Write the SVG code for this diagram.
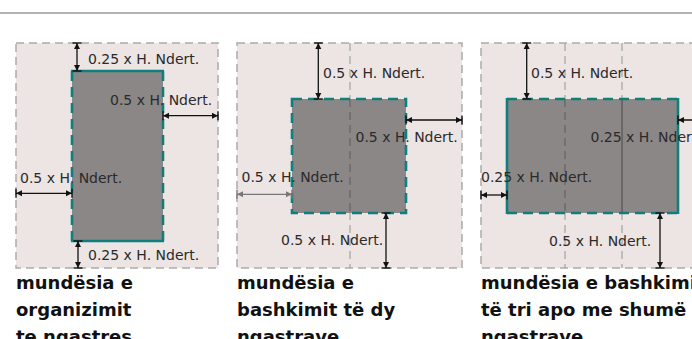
<svg xmlns="http://www.w3.org/2000/svg" width="692" height="339" viewBox="0 0 692 339">
<defs>
<style>
.bg{fill:#ede5e4;stroke:#ababab;stroke-width:1.5;stroke-dasharray:8 5}
.grid{stroke:#a8a8a8;stroke-width:1.3;stroke-dasharray:8 5;fill:none}
.gridin{stroke:#6a6665;stroke-width:1.3;stroke-dasharray:8 5;fill:none}
.bld{fill:#8b8786;stroke:none}
.ts{stroke:#0f7f7e;stroke-width:2.6;fill:none}
.td{stroke:#0f7f7e;stroke-width:2.6;fill:none;stroke-dasharray:10 6}
.dim{stroke:#111;stroke-width:1.3;fill:none;marker-start:url(#ah);marker-end:url(#ah)}
.dimg{stroke:#777;stroke-width:1.3;fill:none;marker-start:url(#ahg);marker-end:url(#ahg)}
.lbl{font-family:"DejaVu Sans","Liberation Sans",sans-serif;font-size:14px;fill:#2a2a2a}
.cap{font-family:"DejaVu Sans","Liberation Sans",sans-serif;font-size:18px;font-weight:bold;fill:#111}
</style>
<marker id="ah" markerUnits="userSpaceOnUse" markerWidth="7" markerHeight="10" viewBox="0 0 7 10" refX="6.4" refY="5" orient="auto-start-reverse">
<path d="M0,1.8 L6.4,5 L0,8.2 Z" fill="#111"/>
<path d="M6.4,0.5 V9.5" stroke="#111" stroke-width="1.4"/>
</marker>
<marker id="ahg" markerUnits="userSpaceOnUse" markerWidth="7" markerHeight="10" viewBox="0 0 7 10" refX="6.4" refY="5" orient="auto-start-reverse">
<path d="M0,1.8 L6.4,5 L0,8.2 Z" fill="#777"/>
<path d="M6.4,0.5 V9.5" stroke="#777" stroke-width="1.4"/>
</marker>
</defs>
<line x1="0" y1="13" x2="692" y2="13" stroke="#9a9a9a" stroke-width="1.5"/>

<g id="panel1">
<rect class="bg" x="16" y="43" width="202" height="225"/>
<g id="building1">
<rect class="bld" x="72" y="71" width="91" height="170"/>
<line class="ts" x1="71" y1="71" x2="164" y2="71"/>
<line class="ts" x1="71" y1="241" x2="164" y2="241"/>
<line class="td" x1="72" y1="71" x2="72" y2="241"/>
<line class="td" x1="163" y1="71" x2="163" y2="241"/>
</g>
<text class="lbl" x="88" y="63.5">0.25 x H. Ndert.</text>
<text class="lbl" x="110" y="104.5">0.5 x H. Ndert.</text>
<text class="lbl" x="20" y="182.5">0.5 x H. Ndert.</text>
<text class="lbl" x="88" y="260">0.25 x H. Ndert.</text>
<text class="cap" x="16" y="289">mundësia e</text>
<text class="cap" x="16" y="316">organizimit</text>
<text class="cap" x="16" y="343">te ngastres</text>
</g>

<g id="panel2">
<rect class="bg" x="237" y="43" width="225" height="225"/>
<line class="grid" x1="350" y1="43" x2="350" y2="268"/>
<g id="building2">
<rect class="bld" x="292" y="99" width="114" height="114"/>
<line class="gridin" x1="350" y1="99" x2="350" y2="213"/>
<rect class="td" x="292" y="99" width="114" height="114"/>
</g>
<text class="lbl" x="323" y="78">0.5 x H. Ndert.</text>
<text class="lbl" x="355.5" y="141.7">0.5 x H. Ndert.</text>
<text class="lbl" x="241.5" y="182.3">0.5 x H. Ndert.</text>
<text class="lbl" x="281" y="245">0.5 x H. Ndert.</text>
<text class="cap" x="237" y="289">mundësia e</text>
<text class="cap" x="237" y="316">bashkimit të dy</text>
<text class="cap" x="237" y="343">ngastrave</text>
</g>

<g id="panel3">
<rect class="bg" x="481" y="43" width="230" height="225"/>
<line class="grid" x1="565" y1="43" x2="565" y2="268"/>
<line class="grid" x1="622" y1="43" x2="622" y2="268"/>
<g id="building3">
<rect class="bld" x="507" y="99" width="171" height="114"/>
<line class="gridin" x1="565" y1="99" x2="565" y2="213"/>
<line x1="622" y1="99" x2="622" y2="213" stroke="#4a4646" stroke-width="1"/>
<line class="td" x1="507" y1="99" x2="678" y2="99"/>
<line class="td" x1="507" y1="213" x2="678" y2="213"/>
<line class="ts" x1="507" y1="98" x2="507" y2="214"/>
<line class="ts" x1="678" y1="98" x2="678" y2="214"/>
</g>
<text class="lbl" x="531" y="78">0.5 x H. Ndert.</text>
<text class="lbl" x="590.5" y="141.7">0.25 x H. Ndert.</text>
<text class="lbl" x="481" y="182">0.25 x H. Ndert.</text>
<text class="lbl" x="549" y="246">0.5 x H. Ndert.</text>
<text class="cap" x="481" y="289">mundësia e bashkimit</text>
<text class="cap" x="481" y="316">të tri apo me shumë</text>
<text class="cap" x="481" y="343">ngastrave</text>
</g>

<g id="connectors">
<line class="dim" x1="77" y1="43" x2="77" y2="71"/>
<line class="dim" x1="163" y1="115.7" x2="218" y2="115.7"/>
<line class="dim" x1="16" y1="193.3" x2="72" y2="193.3"/>
<line class="dim" x1="78" y1="241" x2="78" y2="268"/>
<line class="dim" x1="318.3" y1="43" x2="318.3" y2="99"/>
<line class="dim" x1="406" y1="120" x2="462" y2="120"/>
<line class="dimg" x1="237" y1="194.3" x2="292" y2="194.3"/>
<line class="dim" x1="386" y1="213" x2="386" y2="268"/>
<line class="dim" x1="526.7" y1="43" x2="526.7" y2="99"/>
<line class="dim" x1="678" y1="120" x2="712" y2="120"/>
<line class="dim" x1="481" y1="195" x2="507" y2="195"/>
<line class="dim" x1="660" y1="213" x2="660" y2="268"/>
</g>
</svg>
